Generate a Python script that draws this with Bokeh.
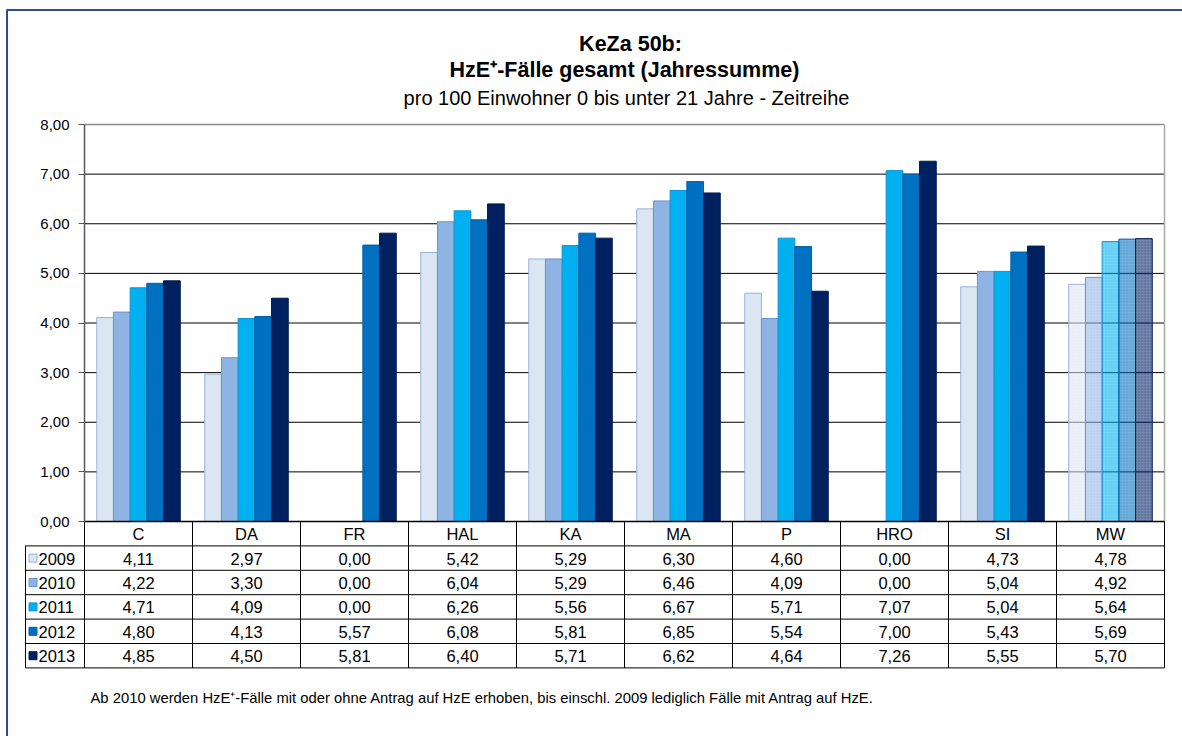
import numpy as np
from bokeh.plotting import figure
from bokeh.models import Range1d, FixedTicker, LinearAxis, CustomJSTickFormatter, ColumnDataSource
from bokeh.core.properties import value
from bokeh.embed import file_html
from bokeh.resources import INLINE

# ---------------- data ----------------
categories = ["C", "DA", "FR", "HAL", "KA", "MA", "P", "HRO", "SI", "MW"]
years = ["2009", "2010", "2011", "2012", "2013"]
v2009 = [4.11, 2.97, 0.00, 5.42, 5.29, 6.30, 4.60, 0.00, 4.73, 4.78]
v2010 = [4.22, 3.30, 0.00, 6.04, 5.29, 6.46, 4.09, 0.00, 5.04, 4.92]
v2011 = [4.71, 4.09, 0.00, 6.26, 5.56, 6.67, 5.71, 7.07, 5.04, 5.64]
v2012 = [4.80, 4.13, 5.57, 6.08, 5.81, 6.85, 5.54, 7.00, 5.43, 5.69]
v2013 = [4.85, 4.50, 5.81, 6.40, 5.71, 6.62, 4.64, 7.26, 5.55, 5.70]
series = [v2009, v2010, v2011, v2012, v2013]
y_ticks = [0, 1, 2, 3, 4, 5, 6, 7, 8]

title1 = "KeZa 50b:"
title2 = "HzE\u207a-F\u00e4lle gesamt (Jahressumme)"
subtitle = "pro 100 Einwohner 0 bis unter 21 Jahre - Zeitreihe"
footnote = ("Ab 2010 werden HzE\u207a-F\u00e4lle mit oder ohne Antrag auf HzE erhoben, "
            "bis einschl. 2009 lediglich  F\u00e4lle mit Antrag auf HzE.")

# ---------------- styling ----------------
fills = ["#DCE6F2", "#8EB4E3", "#00B0F0", "#0070C0", "#002060"]
edges = ["#95B3D7", "#6A94CC", "#0A95D0", "#005EA6", "#001A4E"]
FONT = value("Liberation Sans")
TABLE_FS = value("16.5px")

W, H = 1182, 736
PX_LEFT, PX_RIGHT = 84, 1164      # plot area (pixels)
PX_ZERO, PX_TOP = 521, 124
CAT_PX = (PX_RIGHT - PX_LEFT) / len(categories)
UNIT_PX = (PX_ZERO - PX_TOP) / 8.0


def X(px):
    return (px - PX_LEFT) / CAT_PX


def Y(py):
    return (PX_ZERO - py) / UNIT_PX


p = figure(width=W, height=H, x_axis_type=None, y_axis_type=None,
           x_range=Range1d(X(0), X(W)), y_range=Range1d(Y(H), Y(0)),
           min_border=0, toolbar_location=None, output_backend="svg")
p.outline_line_color = None
p.background_fill_color = "white"
p.border_fill_color = "white"

ncat = len(categories)
xc = np.arange(ncat) + 0.5
bw = 16.7 / CAT_PX

# outer frame (left/top)
p.segment(x0=[X(6.5), X(6)], y0=[Y(9.5), Y(9.5)], x1=[X(6.5), X(W)], y1=[Y(H), Y(9.5)],
          line_color="#2F4B8E", line_width=2)

# grid lines
gy = [t for t in y_ticks if 0 < t < 8]
p.segment(x0=[0] * len(gy), y0=gy, x1=[ncat] * len(gy), y1=gy, line_color="#000000", line_width=1)
p.segment(x0=[0], y0=[y_ticks[-1]], x1=[ncat], y1=[y_ticks[-1]], line_color="#8C8C8C", line_width=1.5)
p.segment(x0=[ncat], y0=[0], x1=[ncat], y1=[y_ticks[-1]], line_color="#A6A6A6", line_width=1.5)

# bars
for j, vals in enumerate(series):
    off = (j - 2) * bw
    src = ColumnDataSource(dict(x=(xc[:-1] + off), top=vals[:-1]))
    p.vbar(x="x", top="top", bottom=0, width=bw, source=src,
           fill_color=fills[j], line_color=edges[j], line_width=1)
    src_mw = ColumnDataSource(dict(x=[xc[-1] + off], top=[vals[-1]]))
    p.vbar(x="x", top="top", bottom=0, width=bw, source=src_mw,
           fill_color=fills[j], fill_alpha=0.55, line_color=edges[j], line_width=1,
           hatch_pattern="dot", hatch_color=fills[j], hatch_alpha=0.35, hatch_scale=3, hatch_weight=1)

# y axis
ax = LinearAxis(fixed_location=0, bounds=(0, 8), ticker=FixedTicker(ticks=y_ticks),
                formatter=CustomJSTickFormatter(code="return tick.toFixed(2).replace('.', ',');"))
ax.axis_line_color = "#595959"
ax.axis_line_width = 1.5
ax.major_tick_line_color = "#595959"
ax.major_tick_out = 6
ax.major_tick_in = 0
ax.minor_tick_line_color = None
ax.major_label_text_font = "Liberation Sans"
ax.major_label_text_font_size = "15px"
ax.major_label_text_color = "#000000"
ax.major_label_standoff = 9
p.add_layout(ax, "left")

# ---------------- data table ----------------
ROW0 = 521
ROW_H = 24.4
nrows = len(years)
row_top = [ROW0 + ROW_H * (k + 1) for k in range(nrows)]
row_mid = [t + ROW_H / 2 for t in row_top]
bottom_px = ROW0 + ROW_H * (nrows + 1)
TAB_LEFT = 25

# horizontal lines
p.segment(x0=[0], y0=[Y(ROW0)], x1=[ncat], y1=[Y(ROW0)], line_color="#000000", line_width=1.5)
hl = row_top + [bottom_px]
p.segment(x0=[X(TAB_LEFT)] * len(hl), y0=[Y(v) for v in hl], x1=[ncat] * len(hl),
          y1=[Y(v) for v in hl], line_color="#000000", line_width=1)
# vertical lines
vx = list(range(ncat + 1))
p.segment(x0=vx, y0=[Y(ROW0)] * len(vx), x1=vx, y1=[Y(bottom_px)] * len(vx),
          line_color="#000000", line_width=1)
p.segment(x0=[X(TAB_LEFT)], y0=[Y(row_top[0])], x1=[X(TAB_LEFT)], y1=[Y(bottom_px)],
          line_color="#000000", line_width=1)

# header
p.text(x=list(xc), y=[Y(ROW0 + ROW_H / 2 + 0.5)] * ncat, text=categories, text_font=FONT,
       text_font_size=TABLE_FS, text_align="center", text_baseline="middle", text_color="#000000")
# values
for k, vals in enumerate(series):
    p.text(x=list(xc), y=[Y(row_mid[k] + 0.5)] * ncat, text=[f"{v:.2f}".replace(".", ",") for v in vals],
           text_font=FONT, text_font_size=TABLE_FS, text_align="center",
           text_baseline="middle", text_color="#000000")
# legend keys + year labels
p.rect(x=[X(32.5)] * nrows, y=[Y(m) for m in row_mid], width=8, height=8,
       width_units="screen", height_units="screen", fill_color=fills, line_color=edges, line_width=1)
p.text(x=[X(38)] * nrows, y=[Y(m + 0.5) for m in row_mid], text=years, text_font=FONT,
       text_font_size=TABLE_FS, text_align="left", text_baseline="middle", text_color="#000000")

# ---------------- titles ----------------
p.text(x=[X(630)], y=[Y(43)], text=[title1], text_font=FONT, text_font_size=value("21.5px"),
       text_font_style="bold", text_align="center", text_baseline="middle", text_color="#000000")
p.text(x=[X(624)], y=[Y(69)], text=[title2], text_font=FONT, text_font_size=value("21.5px"),
       text_font_style="bold", text_align="center", text_baseline="middle", text_color="#000000")
p.text(x=[X(626)], y=[Y(97)], text=[subtitle], text_font=FONT, text_font_size=value("20px"),
       text_align="center", text_baseline="middle", text_color="#000000")
p.text(x=[X(90)], y=[Y(697)], text=[footnote], text_font=FONT, text_font_size=value("14.8px"),
       text_align="left", text_baseline="middle", text_color="#000000")

open("out.html", "w").write(file_html(p, INLINE))
